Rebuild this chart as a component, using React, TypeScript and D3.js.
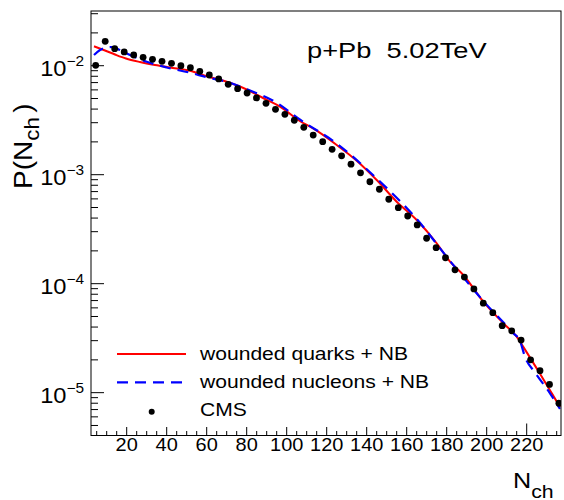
import React from "react";
import * as d3 from "d3";

// CMS p+Pb 5.02 TeV multiplicity distribution
const cmsN = [4.5, 9.25, 14.0, 18.75, 23.5, 28.2, 32.9, 37.65, 42.4, 47.1,
  51.85, 56.55, 61.3, 66.0, 70.75, 75.45, 80.2, 84.9, 89.65, 94.4,
  99.1, 103.8, 108.55, 113.25, 118.0, 122.7, 127.45, 132.15, 136.9, 141.6,
  146.35, 151.05, 155.8, 160.5, 165.25, 169.95, 174.7, 179.4, 184.15, 188.85,
  193.6, 198.3, 203.05, 207.75, 212.5, 217.2, 221.95, 226.65, 231.4, 236.1];
const cmsP = [0.01008, 0.01675, 0.01432, 0.01337, 0.01254, 0.01194, 0.01145, 0.01097, 0.01052, 0.0100,
  0.00959, 0.00889, 0.00822, 0.00756, 0.00675, 0.00615, 0.00562, 0.00506, 0.00452, 0.00398,
  0.00358, 0.00316, 0.00272, 0.00231, 0.00201, 0.00171, 0.00149, 0.00125, 0.00104, 0.000862,
  0.000735, 0.000595, 0.000498, 0.000418, 0.000346, 0.000261, 0.000214, 0.000173, 0.000134, 0.000115,
  0.0000895, 0.0000662, 0.0000542, 0.0000412, 0.0000369, 0.0000304, 0.0000200, 0.0000159, 0.0000119, 0.0000080];

// wounded quarks + NB
const wqN = [3.65, 9.15, 14.15, 19.65, 26.65, 34.15, 41.65, 51.65, 60.15, 71.65, 81.65, 89.15, 96.65,
  105.8, 115, 125, 135, 145, 155, 165, 175, 181.65, 188.3, 198.3, 208.3, 215, 218.3, 226.65, 236.65];
const wqP = [0.01507, 0.01379, 0.01267, 0.01164, 0.01081, 0.01015, 0.00963, 0.00900, 0.00800, 0.00698,
  0.00586, 0.00495, 0.00421, 0.003177, 0.002533, 0.001873, 0.001344, 0.000894, 0.000565, 0.000384,
  0.000235, 0.0001592, 0.0001202, 0.0000684, 0.0000434, 0.0000327, 0.0000263, 0.0000149, 0.0000074];

// wounded nucleons + NB
const wnN = [3.65, 6.65, 9.65, 12.65, 16.65, 21.65, 30, 40, 51.65, 60.15, 71.65, 81.65, 95.15, 105.8,
  125, 145, 165, 181.65, 198.3, 213.3, 216.65, 219.15, 224.15, 231.65, 236.65];
const wnP = [0.01254, 0.01393, 0.01469, 0.01485, 0.01393, 0.01254, 0.01088, 0.00963, 0.00863, 0.00783,
  0.00698, 0.00592, 0.00455, 0.00328, 0.001932, 0.000923, 0.000392, 0.0001616, 0.0000694, 0.0000351,
  0.0000298, 0.0000213, 0.0000153, 0.00000987, 0.00000709];

const xTickLabels = [20, 40, 60, 80, 100, 120, 140, 160, 180, 200, 220];
const yDecades = [-5, -4, -3, -2];
const legendLabels = ["wounded quarks + NB", "wounded nucleons + NB", "CMS"];
const title = "p+Pb  5.02TeV";

const W = 564, H = 500;
const FL = 91, FR = 561, FT = 11, FB = 435.5;
const FONT = "'Liberation Sans', Arial, Helvetica, sans-serif";

export default function App() {
  const x = d3.scaleLinear().domain([2.15, 237.15]).range([FL, FR]);
  const y = d3.scaleLog().domain([Math.pow(10, -5.393), Math.pow(10, -1.498)]).range([FB, FT]);

  const line = d3.line<[number, number]>()
    .x(d => x(d[0])).y(d => y(d[1])).curve(d3.curveMonotoneX);
  const wq = line(wqN.map((n, i) => [n, wqP[i]]));
  const wn = line(wnN.map((n, i) => [n, wnP[i]]));

  const xMinor: number[] = [];
  for (let v = 5; v <= 235; v += 5) xMinor.push(v);

  const yMinor: number[] = [];
  for (let e = -6; e <= -1; e++) {
    for (let k = 2; k <= 9; k++) {
      const v = k * Math.pow(10, e);
      const py = y(v);
      if (py >= FT && py <= FB) yMinor.push(v);
    }
  }

  const sx = 1.12;

  return (
    <svg width={W} height={H} style={{ position: "absolute", left: 0, top: 0, background: "#fff" }}
      fontFamily={FONT}>
      <rect x={0} y={0} width={W} height={H} fill="#fff" />
      <defs>
        <clipPath id="frameClip">
          <rect x={FL} y={FT} width={FR - FL} height={FB - FT} />
        </clipPath>
      </defs>

      {/* x ticks */}
      {xMinor.map(v => {
        const labeled = v % 20 === 0;
        const len = v === 220 ? 12 : labeled ? 8.5 : 4.5;
        return <line key={"xt" + v} x1={x(v)} x2={x(v)} y1={FB} y2={FB - len} stroke="#000" strokeWidth={1} />;
      })}
      {xTickLabels.map(v => (
        <text key={"xl" + v} transform={`translate(${x(v)},${450.5}) scale(1.14,1)`}
          textAnchor="middle" fontSize={17.5} fill="#000">{v}</text>
      ))}

      {/* y ticks */}
      {yDecades.map(e => (
        <line key={"yd" + e} x1={FL} x2={FL + 13} y1={y(Math.pow(10, e))} y2={y(Math.pow(10, e))} stroke="#000" />
      ))}
      {yMinor.map((v, i) => (
        <line key={"ym" + i} x1={FL} x2={FL + 7} y1={y(v)} y2={y(v)} stroke="#000" />
      ))}
      {yDecades.map(e => (
        <text key={"yl" + e} transform={`translate(${84},${y(Math.pow(10, e)) + 10.5}) scale(1.1,1)`}
          textAnchor="end" fill="#000" fontSize={21.5}>
          10<tspan fontSize={14} dy={-10.5}>{"\u2212" + Math.abs(e)}</tspan>
        </text>
      ))}

      {/* curves */}
      <g clipPath="url(#frameClip)">
        <path d={wq || ""} fill="none" stroke="#ff0000" strokeWidth={2} />
        <path d={wn || ""} fill="none" stroke="#0000ff" strokeWidth={2.2} strokeDasharray="11,7" />
        {cmsN.map((n, i) => (
          <circle key={"p" + i} cx={x(n)} cy={y(cmsP[i])} r={3.4} fill="#000" />
        ))}
      </g>

      {/* frame */}
      <rect x={FL} y={FT} width={FR - FL} height={FB - FT} fill="none" stroke="#000" strokeWidth={1} />

      {/* title */}
      <text transform={`translate(307,57.5) scale(1.24,1)`} fontSize={22} fill="#000"
        style={{ whiteSpace: "pre" }} xmlSpace="preserve">{title}</text>

      {/* legend */}
      <line x1={117} x2={186} y1={354} y2={354} stroke="#ff0000" strokeWidth={2} />
      <line x1={117} x2={186} y1={382.3} y2={382.3} stroke="#0000ff" strokeWidth={2.2} strokeDasharray="11,7" />
      <circle cx={151.7} cy={411.7} r={3} fill="#000" />
      {legendLabels.map((t, i) => (
        <text key={"lg" + i} transform={`translate(200,${360 + i * 28.2}) scale(1.14,1)`}
          fontSize={18.5} fill="#000">{t}</text>
      ))}

      {/* y title */}
      <text transform={`translate(31.5,189) rotate(-90) scale(1.12,1)`} fontSize={25} fill="#000">
        P(N<tspan fontSize={20} dy={7}>ch</tspan><tspan dx={4} dy={-7}>)</tspan>
      </text>

      {/* x title */}
      <text transform={`translate(513,488) scale(1.12,1)`} fontSize={22.5} fill="#000">
        N<tspan fontSize={19} dy={9.5}>ch</tspan>
      </text>
    </svg>
  );
}
